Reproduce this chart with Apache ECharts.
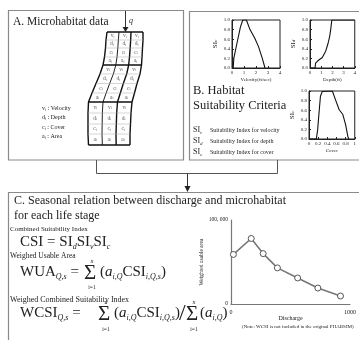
<!DOCTYPE html>
<html>
<head>
<meta charset="utf-8">
<script src="https://cdn.jsdelivr.net/npm/echarts@6/dist/echarts.min.js"></script>
<style>
  html, body { margin: 0; padding: 0; background: #fff; }
  #main { width: 359px; height: 340px; }
</style>
</head>
<body>
<div id="main"></div>
<script>
// habitat suitability curves (box B)
const velocityCurve = [[0.1, 0], [0.15, 0.2], [0.4, 0.5], [0.7, 0.85], [0.9, 1], [1.2, 1], [1.5, 0.8], [1.9, 0.62], [2.2, 0.45], [2.5, 0.22], [2.75, 0]]
const depthCurve = [[0, 0], [0.45, 0], [0.5, 0.1], [0.7, 0.15], [1.1, 0.22], [1.4, 0.35], [1.6, 0.5], [1.75, 0.65], [1.85, 0.8], [1.95, 1], [4, 1]]
const coverCurve = [[0, 0], [0.16, 0], [0.19, 0.2], [0.21, 0.44], [0.25, 0.89], [0.29, 0.99], [0.51, 1], [0.59, 0.79], [0.66, 0.61], [0.74, 0.51], [0.8, 0.3], [0.85, 0.05], [0.87, 0]]

// discharge vs weighted usable area (box C)
const discharge = [20, 170, 270, 390, 560, 730, 920]
const wua = [59000, 78000, 60000, 43000, 31000, 19000, 9500]

// microhabitat mesh (box A): 13 levels -> 3 blocks x 4 rows
const meshLevelY = [32, 40, 48, 57, 65, 74, 83.5, 93, 102, 113, 124, 134, 145]
const meshLeftX = [107, 106, 105.5, 104.5, 103, 100, 96, 92, 88.5, 88, 88, 88, 88.5]
const meshRightX = [143, 143, 142.5, 142, 141.5, 140, 137, 134.5, 132, 131, 130.5, 130, 130]
const cellVars = ['v', 'd', 'c', 'a']
const legendA = [['v', 'Velocity'], ['d', 'Depth'], ['c', 'Cover'], ['a', 'Area']]
const legendB = [['v', 'velocity'], ['d', 'depth'], ['c', 'cover']]

const FONT = '"Liberation Serif", "Times New Roman", serif'
const INK = '#222'
const FRAME = '#8a8a8a'

const chart = echarts.init(document.getElementById('main'))

function richStyles (size, sub) {
  return {
    m: { fontSize: size, fontFamily: FONT, fill: INK, color: INK, lineHeight: size * 1.25 },
    i: { fontSize: size, fontFamily: FONT, fontStyle: 'italic', fill: INK, color: INK, lineHeight: size * 1.25 },
    s: { fontSize: sub, fontFamily: FONT, fontStyle: 'italic', fill: INK, color: INK, lineHeight: sub * 0.8, verticalAlign: 'bottom' }
  }
}

function txt (x, y, text, size, extra = {}) {
  return {
    type: 'text', x, y, silent: true, z: 10,
    style: Object.assign({
      text, fontSize: size, fontFamily: FONT, fill: INK,
      align: 'left', verticalAlign: 'middle', textAlign: 'left', textVerticalAlign: 'middle'
    }, extra)
  }
}
const rtxt = (x, y, text, size, sub, extra = {}) => txt(x, y, text, size, Object.assign({ rich: richStyles(size, sub) }, extra))
const centered = { align: 'center', textAlign: 'center' }

// ---- mesh series ----
const at = (i, f) => [meshLeftX[i] + (meshRightX[i] - meshLeftX[i]) * f, meshLevelY[i]]
const levels = meshLevelY.map((_, i) => i)
const meshSeries = []
const meshLine = (data, width, color) => meshSeries.push({
  type: 'line', xAxisIndex: 4, yAxisIndex: 4, data, showSymbol: false, silent: true, animation: false, z: 5,
  lineStyle: { width, color }
})
meshLine(levels.map(i => at(i, 0)), 1.4, '#111')
meshLine(levels.map(i => at(i, 1)), 1.4, '#111')
meshLine(levels.map(i => at(i, 1 / 3)), 1, '#222')
meshLine(levels.map(i => at(i, 2 / 3)), 1.4, '#111')
levels.forEach(i => {
  const block = i % 4 === 0
  meshLine([at(i, 0), at(i, 1)], block ? 1.4 : 0.5, block ? '#111' : '#aaa')
})
const cellLabels = []
for (let r = 0; r < 12; r++) {
  for (let c = 0; c < 3; c++) {
    const a = at(r, (c + 0.5) / 3)
    const b = at(r + 1, (c + 0.5) / 3)
    cellLabels.push({ value: [(a[0] + b[0]) / 2, (a[1] + b[1]) / 2], name: cellVars[r % 4] })
  }
}
meshSeries.push({
  type: 'scatter', xAxisIndex: 4, yAxisIndex: 4, data: cellLabels, symbolSize: 0, silent: true, animation: false, z: 6,
  label: {
    show: true, position: 'inside', formatter: p => `{m|${p.name}}{s|i}`,
    rich: { m: { fontSize: 5.5, fontFamily: FONT, color: '#333' }, s: { fontSize: 3.5, fontFamily: FONT, color: '#333', verticalAlign: 'bottom' } }
  }
})

// ---- axes ----
const smallX = (gridIndex, max, interval, name, fmt) => ({
  type: 'value', gridIndex, min: 0, max, interval, name, nameLocation: 'middle', nameGap: 9,
  nameTextStyle: { fontFamily: FONT, fontSize: 5, color: INK },
  axisLine: { lineStyle: { color: INK, width: 1 } },
  axisTick: { inside: true, length: 2, lineStyle: { color: INK } },
  axisLabel: { fontFamily: FONT, fontSize: 5, color: INK, margin: 2, formatter: fmt },
  splitLine: { show: false }
})
const smallY = (gridIndex, sub) => ({
  type: 'value', gridIndex, min: 0, max: 1, interval: 0.2,
  name: `{m|SI}{s|${sub}}`, nameLocation: 'middle', nameGap: 13, nameRotate: 90,
  nameTextStyle: { rich: { m: { fontSize: 7, fontFamily: FONT, color: INK }, s: { fontSize: 5, fontFamily: FONT, fontStyle: 'italic', color: INK } } },
  axisLine: { lineStyle: { color: INK, width: 1 } },
  axisTick: { inside: true, length: 2, lineStyle: { color: INK } },
  axisLabel: { fontFamily: FONT, fontSize: 5, color: INK, margin: 2, formatter: v => v.toFixed(1) },
  splitLine: { show: false }
})

const curve = (i, data) => ({
  type: 'line', xAxisIndex: i, yAxisIndex: i, data, showSymbol: false, animation: false,
  lineStyle: { color: '#111', width: 1.1 }
})

chart.setOption({
  animation: false,
  grid: [
    { left: 232, top: 20, width: 48, height: 48, show: true, borderColor: INK, borderWidth: 1 },
    { left: 310, top: 20, width: 46, height: 48, show: true, borderColor: INK, borderWidth: 1 },
    { left: 309, top: 91, width: 46, height: 48, show: true, borderColor: INK, borderWidth: 1 },
    { left: 231, top: 220, width: 122, height: 84 },
    { left: 0, top: 0, width: 359, height: 340 }
  ],
  xAxis: [
    smallX(0, 4, 1, 'Velocity(ft/sec)'),
    smallX(1, 4, 1, 'Depth(ft)'),
    smallX(2, 1, 0.2, 'Cover', v => String(Math.round(v * 10) / 10)),
    {
      type: 'value', gridIndex: 3, min: 0, max: 1000, interval: 1000,
      name: 'Discharge', nameLocation: 'middle', nameGap: 6,
      nameTextStyle: { fontFamily: FONT, fontSize: 6, color: INK },
      axisLine: { lineStyle: { color: '#777', width: 1.2 } },
      axisTick: { show: false },
      axisLabel: { fontFamily: FONT, fontSize: 6, color: INK, margin: 5, formatter: v => String(v) },
      splitLine: { show: false }
    },
    { type: 'value', gridIndex: 4, min: 0, max: 359, show: false }
  ],
  yAxis: [
    smallY(0, 'v'),
    smallY(1, 'd'),
    smallY(2, 'c'),
    {
      type: 'value', gridIndex: 3, min: 0, max: 100000, interval: 100000,
      name: 'Weighted usable area', nameLocation: 'middle', nameGap: 10, nameRotate: 90,
      nameTextStyle: { fontFamily: FONT, fontSize: 5.5, color: INK },
      axisLine: { show: true, lineStyle: { color: '#777', width: 1.2 } },
      axisTick: { show: false },
      axisLabel: { fontFamily: FONT, fontSize: 5.5, color: INK, margin: 3, formatter: v => v === 0 ? '0' : '100, 000' },
      splitLine: { show: false }
    },
    { type: 'value', gridIndex: 4, min: 0, max: 340, inverse: true, show: false }
  ],
  series: [
    curve(0, velocityCurve),
    curve(1, depthCurve),
    curve(2, coverCurve),
    {
      type: 'line', xAxisIndex: 3, yAxisIndex: 3, data: discharge.map((q, i) => [q, wua[i]]),
      symbol: 'circle', symbolSize: 6, animation: false,
      lineStyle: { color: '#777', width: 1.6 },
      itemStyle: { color: '#fff', borderColor: '#555', borderWidth: 1 }
    },
    ...meshSeries
  ],
  graphic: [
    // frames and connectors
    { type: 'rect', shape: { x: 8.5, y: 10.5, width: 175, height: 149.5 }, style: { fill: 'none', stroke: FRAME, lineWidth: 1.2 } },
    { type: 'rect', shape: { x: 189.5, y: 11.5, width: 180, height: 148.5 }, style: { fill: 'none', stroke: FRAME, lineWidth: 1.2 } },
    { type: 'rect', shape: { x: 8.5, y: 192.5, width: 360, height: 160 }, style: { fill: 'none', stroke: FRAME, lineWidth: 1.2 } },
    { type: 'polyline', shape: { points: [[96.5, 160], [96.5, 173.5], [277.5, 173.5], [277.5, 160]] }, style: { fill: 'none', stroke: '#555', lineWidth: 1 } },
    { type: 'polyline', shape: { points: [[187.5, 173.5], [187.5, 187]] }, style: { fill: 'none', stroke: '#333', lineWidth: 1 } },
    { type: 'polygon', shape: { points: [[184.5, 186], [190.5, 186], [187.5, 192]] }, style: { fill: '#222' } },
    { type: 'polyline', shape: { points: [[125.5, 11], [125.5, 28]] }, style: { fill: 'none', stroke: '#333', lineWidth: 1 } },
    { type: 'polygon', shape: { points: [[122.5, 27], [128.5, 27], [125.5, 32]] }, style: { fill: '#222' } },

    // box A
    txt(13, 22, 'A. Microhabitat data', 11.5),
    txt(129, 21, 'q', 8, { fontStyle: 'italic' }),
    ...legendA.map((d, k) => rtxt(42, 108 + k * 9.5, `{m|${d[0]}}{s|i}{m| : ${d[1]}}`, 6, 4)),

    // box B
    txt(193, 91, 'B. Habitat', 12.5),
    txt(193, 106, 'Suitability Criteria', 12.5),
    ...legendB.map((d, k) => rtxt(193, 130 + k * 11, `{m|SI}{s|${d[0]}}`, 8, 5)),
    ...legendB.map((d, k) => txt(210, 130 + k * 11, 'Suitability Index for ' + d[1], 6)),

    // box C
    txt(14, 201, 'C. Seasonal relation between discharge and microhabitat', 12),
    txt(14, 216, 'for each life stage', 12),
    txt(10, 229, 'Combined Suitability Index', 7),
    rtxt(20, 242, '{m|CSI = SI}{s|d}{m|SI}{s|v}{m|SI}{s|c}', 15, 8),
    txt(10, 256, 'Weighed Usable Area', 7.5),
    rtxt(20, 272, '{m|WUA}{s|Q,s}{m| =}', 15, 8),
    txt(84, 273, 'Σ', 21),
    txt(92, 261, 'n', 6, Object.assign({ fontStyle: 'italic' }, centered)),
    txt(92, 288, 'i=1', 5.5, centered),
    rtxt(100, 272, '{m|(}{i|a}{s|i,Q}{m|CSI}{s|i,Q,s}{m|)}', 15, 8),
    txt(10, 300, 'Weighed Combined Suitability Index', 8),
    rtxt(20, 313, '{m|WCSI}{s|Q,s}{m| =}', 15, 8),
    txt(98, 314, 'Σ', 21),
    txt(106, 302, 'n', 6, Object.assign({ fontStyle: 'italic' }, centered)),
    txt(106, 330, 'i=1', 5.5, centered),
    rtxt(114, 313, '{m|(}{i|a}{s|i,Q}{m|CSI}{s|i,Q,s}{m|)}', 15, 8),
    txt(179, 314, '/', 24),
    txt(186, 314, 'Σ', 21),
    txt(194, 302, 'n', 6, Object.assign({ fontStyle: 'italic' }, centered)),
    txt(194, 330, 'i=1', 5.5, centered),
    rtxt(200, 313, '{m|(}{i|a}{s|i,Q}{m|)}', 15, 8),
    txt(242, 327, '(Note: WCSI is not included in the original PHABSIM)', 5)
  ]
})
</script>
</body>
</html>
